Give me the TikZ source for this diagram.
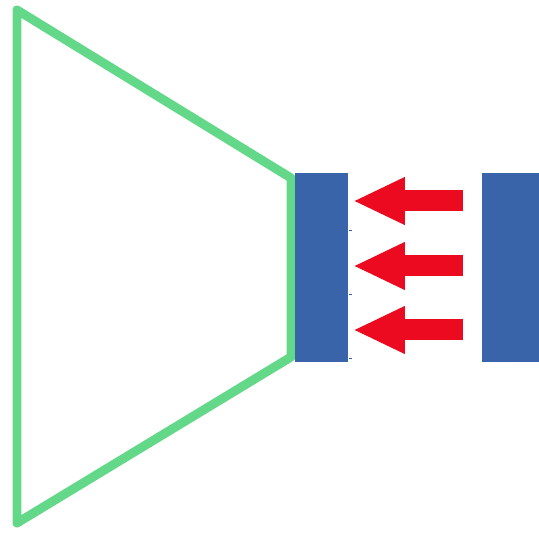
\documentclass[tikz,border=0pt]{standalone}
\usetikzlibrary{arrows.meta}
\definecolor{horngreen}{RGB}{98,216,136}
\definecolor{padblue}{RGB}{57,100,170}
\definecolor{pushred}{RGB}{236,10,32}
\begin{document}
\begin{tikzpicture}[x=0.02cm, y=-0.02cm,
    pad/.style={fill=padblue, inner sep=0, minimum height=0.378cm*10, anchor=north west},
    push/.style={draw=pushred, line width=0.42cm, -{Triangle[length=1.04cm, width=0.88cm]}}]
  \useasboundingbox (0,0) rectangle (539,533);
  % horn outline
  \draw[horngreen, line width=0.18cm, line join=round] (17,10) -- (291,178) -- (291,357) -- (17,523) -- cycle;
  % the two plates
  \node[pad, minimum width=1.06cm] (near) at (295,173) {};
  \node[pad, minimum width=1.14cm] (far) at (482,173) {};
  \foreach \y in {231,295,359}
    \draw[padblue, line width=0.02cm] (near.east |- 0,\y) -- ++(3,0);
  % pushing arrows
  \foreach \y [count=\i] in {201,266,330} {
    \coordinate (tail\i) at (463,\y);
    \coordinate (tip\i) at (353,\y);
    \draw[push] (tail\i) -- (tip\i);
  }
\end{tikzpicture}
\end{document}
